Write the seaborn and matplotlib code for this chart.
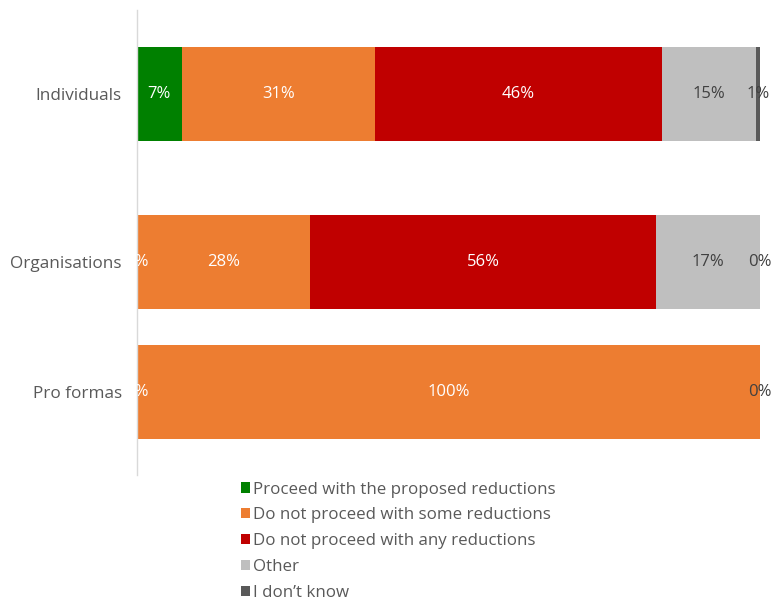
import matplotlib
matplotlib.use("Agg")
import matplotlib.pyplot as plt
import seaborn as sns
import numpy as np
from matplotlib.patches import Patch

categories = ["Individuals", "Organisations", "Pro formas"]
series_names = [
    "Proceed with the proposed reductions",
    "Do not proceed with some reductions",
    "Do not proceed with any reductions",
    "Other",
    "I don\u2019t know",
]
proceed = [7.2, 0.0, 0.0]
some_reductions = [31.0, 27.8, 100.0]
any_reductions = [46.1, 55.5, 0.0]
other = [15.1, 16.7, 0.0]
dont_know = [0.6, 0.0, 0.0]

colors = ["#008000", "#ED7D31", "#C00000", "#BFBFBF", "#595959"]
label_colors = ["white", "white", "white", "#404040", "#404040"]

sns.set_theme(style="white")
plt.rcParams["font.family"] = ["Open Sans", "DejaVu Sans"]

fig = plt.figure(figsize=(7.71, 6.01), dpi=100)
ax = fig.add_axes([137 / 771, (601 - 475) / 601, 634 / 771, 465 / 601])

# uneven vertical placement as in the reference
ypos = [0.0, 168 / 130, 168 / 130 + 1.0]

series = [proceed, some_reductions, any_reductions, other, dont_know]
n_series = len(series)
left = np.zeros(len(categories))
for si, (name, vals, col, lc) in enumerate(zip(series_names, series, colors, label_colors)):
    vals = np.array(vals, dtype=float)
    sns.barplot(x=vals, y=ypos, orient="h", native_scale=True, left=left,
                color=col, width=0.73, saturation=1, errorbar=None, ax=ax,
                linewidth=0)
    for yv, l, v in zip(ypos, left, vals):
        if v == 0 and 0 < si < n_series - 1:
            continue
        ax.text(l + v / 2, yv, f"{v:.0f}%", ha="center", va="center",
                color=lc, fontsize=12, clip_on=True)
    left = left + vals

ax.set_xlim(0, 634 / 623 * 100)
ax.set_ylim(ypos[-1] + 83 / 130, -84 / 130)
ax.set_yticks(ypos)
ax.set_yticklabels(categories, color="#595959", fontsize=12.3)
ax.set_xticks([])
ax.tick_params(axis="y", length=0, pad=11)
ax.set_xlabel("")
ax.set_ylabel("")
for s in ["top", "right", "bottom"]:
    ax.spines[s].set_visible(False)
ax.spines["left"].set_color("#D9D9D9")
ax.spines["left"].set_linewidth(1)

handles = [Patch(facecolor=c, edgecolor="none") for c in colors]
leg = fig.legend(handles, series_names, loc="upper left",
                 bbox_to_anchor=(227 / 771, 1 - 468 / 601), frameon=False,
                 fontsize=12.2, handlelength=0.55, handleheight=0.55,
                 handletextpad=0.2, labelspacing=0.58, borderpad=0.3)
for t in leg.get_texts():
    t.set_color("#595959")

fig.savefig("out.png", dpi=100)
